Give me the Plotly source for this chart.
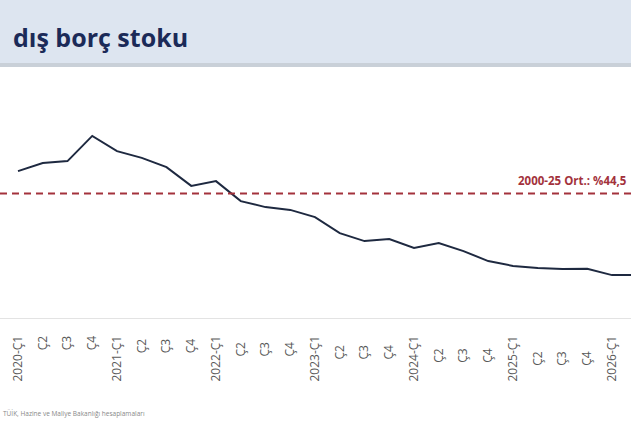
import plotly.graph_objects as go

categories = [
    "2020-Ç1", "Ç2", "Ç3", "Ç4",
    "2021-Ç1", "Ç2 ", "Ç3 ", "Ç4 ",
    "2022-Ç1", "Ç2  ", "Ç3  ", "Ç4  ",
    "2023-Ç1", "Ç2   ", "Ç3   ", "Ç4   ",
    "2024-Ç1", "Ç2    ", "Ç3    ", "Ç4    ",
    "2025-Ç1", "Ç2     ", "Ç3     ", "Ç4     ",
    "2026-Ç1", "Ç2      ",
]
values = [
    50.1, 52.1, 52.6, 58.9,
    55.1, 53.4, 51.1, 46.4,
    47.6, 42.6, 41.1, 40.4,
    38.6, 34.6, 32.6, 33.1,
    30.9, 32.1, 30.1, 27.6,
    26.4, 25.9, 25.6, 25.7,
    24.1, 24.1,
]
avg_value = 44.5
avg_label = "2000-25 Ort.: %44,5"
title_text = "dış borç stoku"
source_text = "TÜİK, Hazine ve Maliye Bakanlığı hesaplamaları"

W, H = 631, 421
plot_top, plot_bottom = 70, 318

def fy(py):
    return 1 - py / H

fig = go.Figure()
fig.add_trace(go.Scatter(
    x=categories, y=values, mode="lines",
    line=dict(color="#1e2940", width=2),
    showlegend=False, hoverinfo="skip",
))

# average reference line
fig.add_shape(type="line", xref="paper", yref="y", x0=0, x1=1,
              y0=avg_value, y1=avg_value,
              line=dict(color="#a3323c", width=2, dash="7px,5px"))

# header band
fig.add_shape(type="rect", xref="paper", yref="paper", x0=0, x1=1,
              y0=fy(64), y1=1, fillcolor="#dde5f0", line=dict(width=0), layer="below")
fig.add_shape(type="rect", xref="paper", yref="paper", x0=0, x1=1,
              y0=fy(67), y1=fy(63), fillcolor="#c9d0d8", line=dict(width=0), layer="below")

fig.add_annotation(text="<b>" + title_text + "</b>", xref="paper", yref="paper",
                   x=11 / W, y=fy(37), xanchor="left", yanchor="middle",
                   showarrow=False, font=dict(family="Open Sans", size=25, color="#1b2a58"))

fig.add_annotation(text="<b>" + avg_label + "</b>", xref="paper", yref="y",
                   x=629 / W, y=avg_value, xanchor="right", yanchor="bottom", yshift=4,
                   showarrow=False, font=dict(family="Open Sans", size=11.5, color="#a3323c"))

fig.add_annotation(text=source_text, xref="paper", yref="paper",
                   x=1 / W, y=fy(413), xanchor="left", yanchor="middle",
                   showarrow=False, font=dict(family="Open Sans", size=6.5, color="#888888"))

px_per_cat = 24.75
x0_px = 18
fig.update_xaxes(
    range=[-x0_px / px_per_cat, (W - x0_px) / px_per_cat],
    tickangle=-90, showgrid=False, zeroline=False,
    showline=True, linecolor="#e3e3e3", linewidth=1,
    ticks="", ticklabelstandoff=12,
    tickfont=dict(family="Open Sans", size=12, color="#595959"),
    domain=[0, 1], automargin=False,
)
k = 4.0
y_top = avg_value + (193.5 - plot_top) / k
y_bot = avg_value - (plot_bottom - 193.5) / k
fig.update_yaxes(range=[y_bot, y_top], visible=False,
                 domain=[fy(plot_bottom), fy(plot_top)], automargin=False)

fig.update_layout(
    width=W, height=H,
    margin=dict(l=0, r=0, t=0, b=0),
    paper_bgcolor="white", plot_bgcolor="white",
    font=dict(family="Open Sans"),
)

fig.write_html("out.html",
               config={"displayModeBar": False},
               post_script="document.body.style.margin='0';document.body.style.overflow='hidden';")
